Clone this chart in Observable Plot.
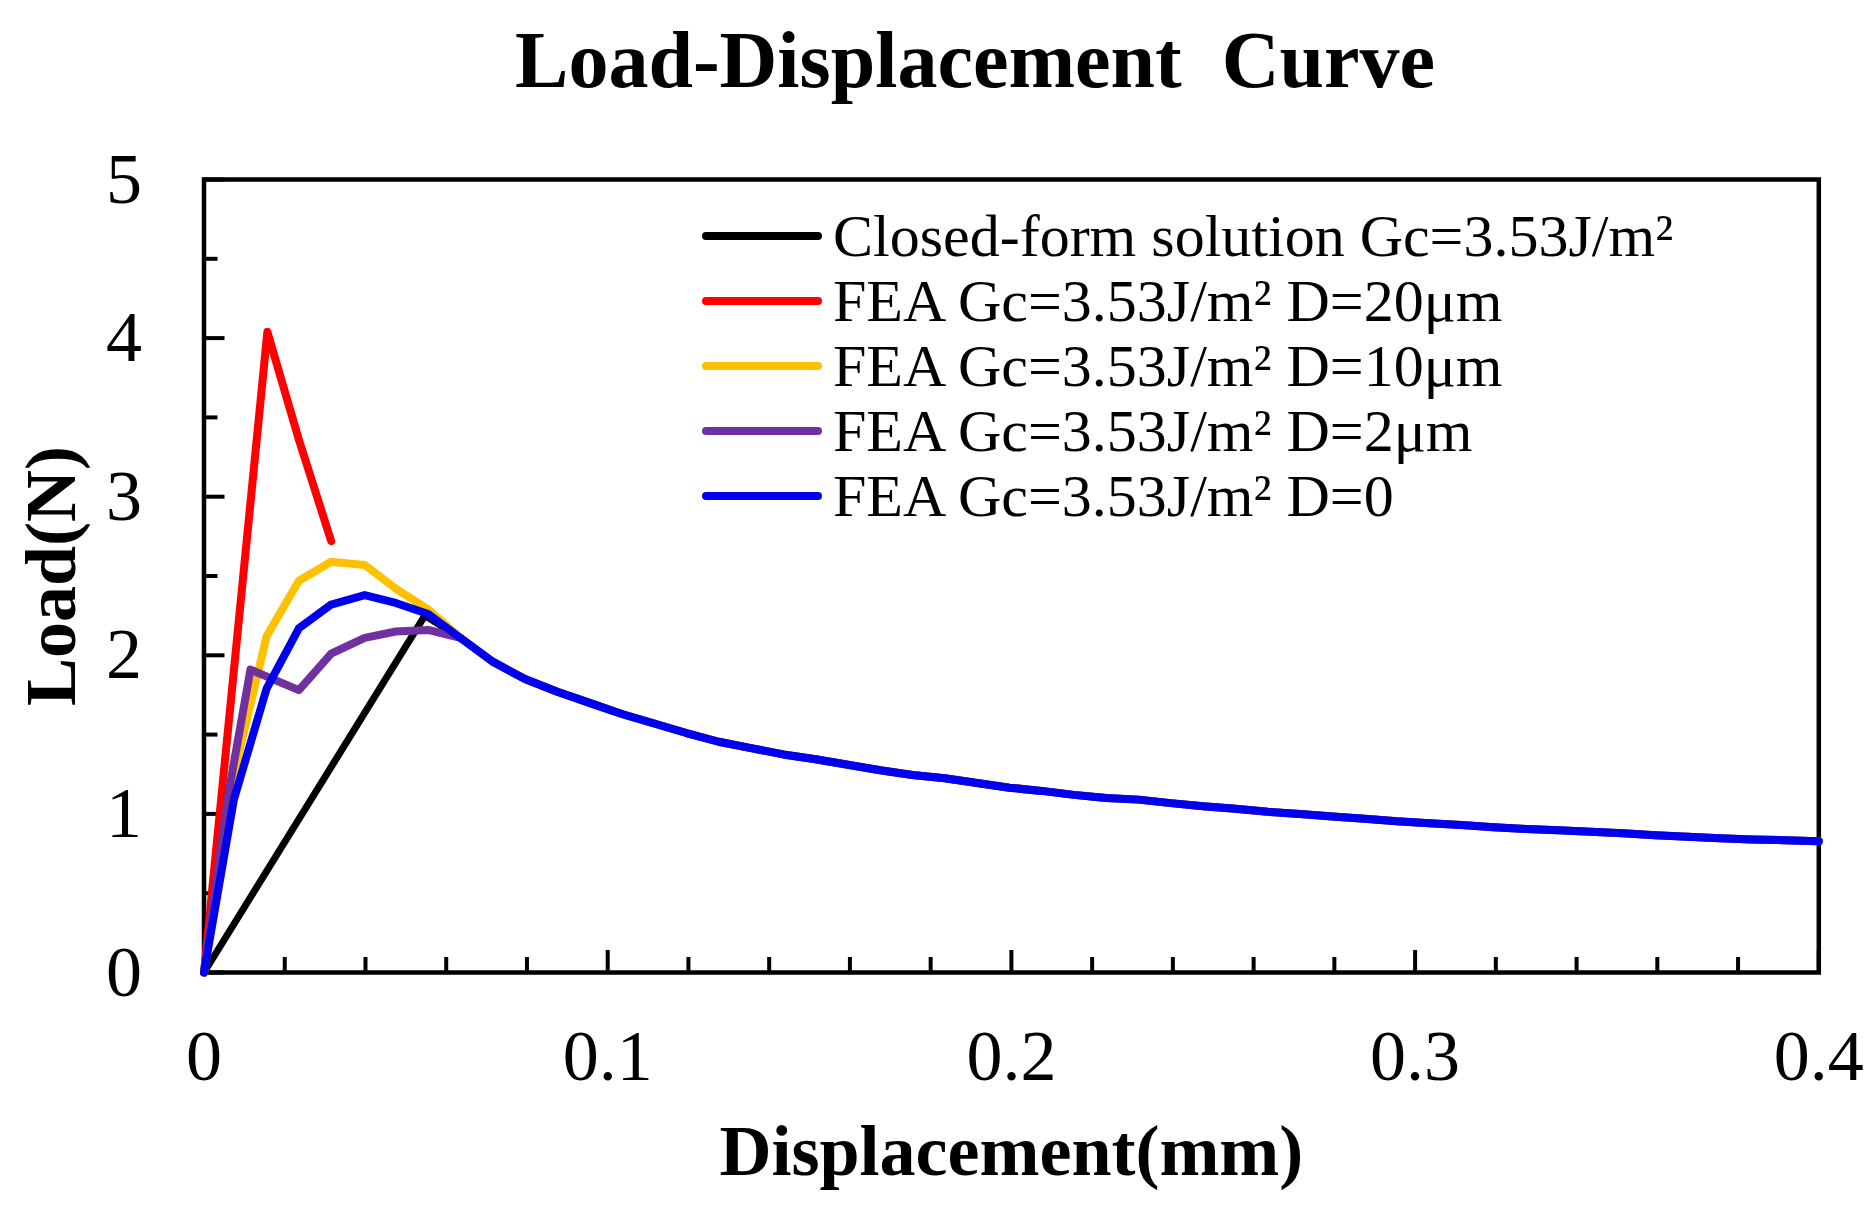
<!DOCTYPE html>
<html>
<head>
<meta charset="utf-8">
<script src="https://cdn.jsdelivr.net/npm/d3@7"></script>
<script src="https://cdn.jsdelivr.net/npm/@observablehq/plot@0.6"></script>
<style>
  html, body { margin: 0; padding: 0; background: #fff; overflow: hidden; }
  #wrap { position: relative; width: 1869px; height: 1214px; font-family: "Liberation Serif", "Times New Roman", serif; }
  #title { position: absolute; left: 975px; top: 0; transform: translateX(-50%); height: 120px; line-height: 120px;
           font-size: 80px; font-weight: bold; white-space: pre; color: #000; }
  #chart { position: absolute; left: 0; top: 120px; }
  #legend { position: absolute; left: 702px; top: 203px; }
  .row { display: flex; align-items: center; height: 65px; }
  .swatch { width: 120px; height: 8px; border-radius: 4px; margin-right: 11px; }
  .lab { font-size: 60px; line-height: 60px; white-space: pre; color: #000; }
</style>
</head>
<body>
<div id="wrap">
  <div id="title">Load-Displacement  Curve</div>
  <div id="chart"></div>
  <div id="legend"></div>
</div>
<script>
// ---- tick labels ----
const xMajor = [0, 0.1, 0.2, 0.3, 0.4];
const xTickLabels = ["0", "0.1", "0.2", "0.3", "0.4"];
const xMinor = [0.02, 0.04, 0.06, 0.08, 0.12, 0.14, 0.16, 0.18, 0.22, 0.24, 0.26, 0.28, 0.32, 0.34, 0.36, 0.38];
const yMajor = [0, 1, 2, 3, 4, 5];
const yTickLabels = ["0", "1", "2", "3", "4", "5"];
const yMinor = [0.5, 1.5, 2.5, 3.5, 4.5];

// ---- series names / colours ----
const seriesNames = [
  "Closed-form solution Gc=3.53J/m²",
  "FEA Gc=3.53J/m² D=20μm",
  "FEA Gc=3.53J/m² D=10μm",
  "FEA Gc=3.53J/m² D=2μm",
  "FEA Gc=3.53J/m² D=0"
];
const seriesColors = ["#000000", "#ff0000", "#ffc000", "#7030a0", "#0000ee"];

// ---- data (displacement mm, load N) ----
const closedDisp = [0, 0.0547];
const closedLoad = [0, 2.25];
const d20Disp = [0, 0.0157, 0.0235, 0.0315];
const d20Load = [0, 4.04, 3.36, 2.72];
const d10Disp = [0, 0.0075, 0.0155, 0.0235, 0.0315, 0.0398, 0.0475, 0.0555];
const d10Load = [0, 1.26, 2.12, 2.47, 2.59, 2.57, 2.42, 2.29];
const d2Disp = [0, 0.006, 0.0115, 0.0235, 0.0315, 0.0398, 0.0475, 0.0555];
const d2Load = [0, 1.12, 1.91, 1.78, 2.01, 2.11, 2.15, 2.16];
const d0Disp = [0, 0.0074, 0.0155, 0.0235, 0.0315, 0.0398, 0.0475, 0.0555];
const d0Load = [0, 1.09, 1.79, 2.17, 2.32, 2.38, 2.33, 2.26];
// common post-peak branch shared by all curves except D=20μm
const tailDisp = [0.0635, 0.0715, 0.0795, 0.0875, 0.0955, 0.1035, 0.1115, 0.1195, 0.1275, 0.1355,
  0.1435, 0.1515, 0.1595, 0.1675, 0.1755, 0.1835, 0.1915, 0.1995, 0.2075, 0.2155,
  0.2235, 0.2315, 0.2395, 0.2475, 0.2555, 0.2635, 0.2715, 0.2795, 0.2875, 0.2955,
  0.3035, 0.3115, 0.3195, 0.3275, 0.3355, 0.3435, 0.3515, 0.3595, 0.3675, 0.3755,
  0.3835, 0.3915, 0.4];
const tailLoad = [2.11, 1.96, 1.85, 1.77, 1.70, 1.63, 1.57, 1.51, 1.455, 1.415,
  1.375, 1.345, 1.31, 1.275, 1.245, 1.225, 1.195, 1.165, 1.145, 1.12,
  1.10, 1.09, 1.068, 1.048, 1.033, 1.013, 1.0, 0.983, 0.97, 0.953,
  0.941, 0.93, 0.916, 0.905, 0.897, 0.888, 0.878, 0.866, 0.856, 0.847,
  0.839, 0.834, 0.828];

function rows(series, dx, ly, withTail) {
  const out = dx.map((x, i) => ({series, x, y: ly[i]}));
  if (withTail) tailDisp.forEach((x, i) => out.push({series, x, y: tailLoad[i]}));
  return out;
}
const seriesData = [
  rows(seriesNames[0], closedDisp, closedLoad, true),
  rows(seriesNames[1], d20Disp, d20Load, false),
  rows(seriesNames[2], d10Disp, d10Load, true),
  rows(seriesNames[3], d2Disp, d2Load, true),
  rows(seriesNames[4], d0Disp, d0Load, true)
];

const W = 1869, H = 1094;
const mL = 203.5, mR = 50.7, mT = 59, mB = 242;
const plotW = W - mL - mR, plotH = H - mT - mB;
const FONT = "'Liberation Serif', 'Times New Roman', serif";

const lineMarks = seriesData.map((d, i) => Plot.line(d, {
  x: "x", y: "y", stroke: seriesColors[i], strokeWidth: i === 0 ? 7 : 8,
  strokeLinejoin: "round", strokeLinecap: "round"
}));

const chart = Plot.plot({
  width: W, height: H,
  marginLeft: mL, marginRight: mR, marginTop: mT, marginBottom: mB,
  x: {domain: [0, 0.4]},
  y: {domain: [0, 5]},
  style: {fontFamily: FONT, color: "#000", background: "#fff", overflow: "visible"},
  marks: [
    Plot.axisX(xMajor, {tickSize: 0, tickPadding: 56, fontSize: 72, label: null,
      tickFormat: d => xTickLabels[xMajor.indexOf(d)]}),
    Plot.axisY(yMajor, {tickSize: 0, tickPadding: 62, fontSize: 72, label: null,
      tickFormat: d => yTickLabels[yMajor.indexOf(d)]}),
    Plot.ruleX(xMajor, {x: d => d, insetTop: plotH - 22, stroke: "#000", strokeWidth: 4}),
    Plot.ruleX(xMinor, {x: d => d, insetTop: plotH - 15, stroke: "#000", strokeWidth: 4}),
    Plot.ruleY(yMajor, {y: d => d, insetRight: plotW - 21, stroke: "#000", strokeWidth: 4}),
    Plot.ruleY(yMinor, {y: d => d, insetRight: plotW - 14, stroke: "#000", strokeWidth: 4}),
    Plot.frame({stroke: "#000", strokeWidth: 4.5}),
    ...lineMarks,
    Plot.text(["Displacement(mm)"], {frameAnchor: "bottom", dy: 202, lineAnchor: "bottom",
      text: d => d, fontSize: 72, fontWeight: "bold", fill: "#000"}),
    Plot.text(["Load(N)"], {frameAnchor: "left", dx: -129, rotate: -90, lineAnchor: "bottom",
      textAnchor: "middle", text: d => d, fontSize: 72, fontWeight: "bold", fill: "#000"})
  ]
});
document.getElementById("chart").appendChild(chart);

// legend
const leg = document.getElementById("legend");
seriesNames.forEach((name, i) => {
  const r = document.createElement("div");
  r.className = "row";
  const s = document.createElement("span");
  s.className = "swatch";
  s.style.background = seriesColors[i];
  const t = document.createElement("span");
  t.className = "lab";
  t.textContent = name;
  r.appendChild(s); r.appendChild(t);
  leg.appendChild(r);
});
</script>
</body>
</html>
